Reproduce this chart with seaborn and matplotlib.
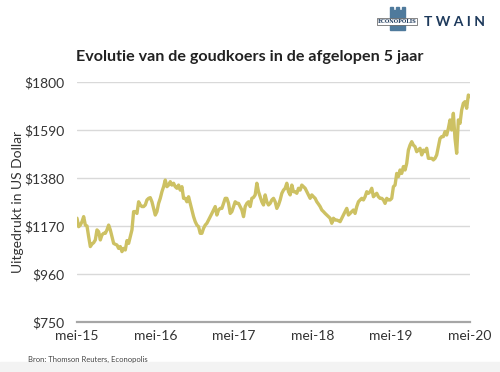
import numpy as np
import pandas as pd
import matplotlib
matplotlib.use("Agg")
import matplotlib.pyplot as plt
import matplotlib.patches as mpatches
import seaborn as sns

# ---- data (gold price, USD/oz) ----
gold_price = [
    1204, 1167, 1174, 1189, 1211, 1174, 1170, 1123, 1080, 1091, 1097, 1109, 1153, 1145, 1109, 1131,
    1138, 1138, 1153, 1174, 1153, 1123, 1094, 1090, 1087, 1072, 1080, 1058, 1072, 1065, 1106, 1094,
    1123, 1153, 1233, 1233, 1225, 1276, 1262, 1255, 1255, 1262, 1284, 1291, 1294, 1276, 1247, 1218,
    1233, 1269, 1291, 1320, 1342, 1371, 1342, 1349, 1364, 1349, 1357, 1342, 1335, 1349, 1327, 1342,
    1291, 1291, 1276, 1298, 1269, 1240, 1211, 1189, 1174, 1167, 1138, 1138, 1160, 1174, 1182, 1196,
    1211, 1225, 1240, 1255, 1218, 1240, 1247, 1247, 1269, 1291, 1291, 1269, 1225, 1233, 1255, 1276,
    1269, 1269, 1255, 1240, 1211, 1255, 1269, 1276,
    1255, 1291, 1295, 1306, 1357, 1320, 1298, 1276, 1262, 1306, 1276, 1262, 1269, 1284, 1291, 1276,
    1247, 1262, 1284, 1313, 1327, 1335, 1357, 1320, 1306, 1349, 1320, 1320, 1313, 1335, 1327, 1349,
    1342, 1335, 1320, 1306, 1291, 1306, 1298, 1291, 1276, 1266, 1255, 1240, 1233, 1225, 1218, 1211,
    1204, 1182, 1204, 1196, 1196, 1193, 1189, 1204, 1218, 1233, 1247, 1218, 1225, 1233, 1240, 1225,
    1255, 1276, 1284, 1291, 1284, 1298, 1320, 1313, 1320, 1335, 1298, 1306, 1313, 1298, 1291, 1291,
    1284, 1269, 1291, 1284, 1284, 1291, 1342, 1349, 1400, 1386, 1415, 1400, 1430, 1415, 1444, 1502,
    1524, 1539, 1524, 1517, 1495, 1502, 1510, 1481, 1502, 1495, 1510, 1466, 1466, 1466, 1459, 1466,
    1481, 1517, 1553, 1561, 1561, 1583, 1568, 1597, 1634, 1590, 1663, 1553, 1488, 1634, 1619, 1677,
    1707, 1714, 1685, 1743, 1736,
]
start_date = "2015-05-01"
end_date = "2020-05-04"
y_ticks = [750, 960, 1170, 1380, 1590, 1800]
x_tick_dates = ["2015-05-01", "2016-05-01", "2017-05-01", "2018-05-01", "2019-05-01", "2020-05-01"]
x_tick_labels = ["mei-15", "mei-16", "mei-17", "mei-18", "mei-19", "mei-20"]

dates = pd.date_range(start_date, end_date, periods=len(gold_price))
df = pd.DataFrame({"datum": dates, "prijs": gold_price})

# ---- style ----
sns.set_theme(style="white")
plt.rcParams["font.family"] = ["Lato", "DejaVu Sans"]

fig = plt.figure(figsize=(5.0, 3.72), dpi=100)
ax = fig.add_axes([0.154, 0.1344, 0.786, 0.6452])

for v in y_ticks[1:]:
    ax.axhline(v, color="#d9d9d9", lw=1.0, zorder=0)

sns.lineplot(data=df, x="datum", y="prijs", ax=ax, color="#cdc163", lw=2.4, zorder=3)

ax.set_ylim(750, 1800)
ax.set_xlim(pd.Timestamp(start_date), pd.Timestamp(end_date))
ax.set_yticks(y_ticks)
ax.set_yticklabels([f"${v}" for v in y_ticks])
ax.set_xticks(pd.to_datetime(x_tick_dates))
ax.set_xticklabels(x_tick_labels)
ax.tick_params(axis="both", length=0, labelsize=10, colors="#333333")
ax.tick_params(axis="y", pad=9)
ax.tick_params(axis="x", pad=6)
for s in ["top", "right", "left"]:
    ax.spines[s].set_visible(False)
ax.spines["bottom"].set_color("#a6a6a6")
ax.spines["bottom"].set_linewidth(1.6)
ax.set_xlabel("")
ax.set_ylabel("Uitgedrukt in US Dollar", fontsize=10, color="#333333")
ax.yaxis.set_label_coords(-0.134, 0.5)

fig.text(0.5, 0.847, "Evolutie van de goudkoers in de afgelopen 5 jaar",
         ha="center", va="center", fontsize=11.6, fontweight="bold", color="#222222")

fig.text(0.056, 0.035, "Bron: Thomson Reuters, Econopolis", fontsize=5.5,
         color="#444444", ha="left", va="center")

# bottom light strip
fig.patches.append(mpatches.Rectangle((0, 0), 1, 0.028, transform=fig.transFigure,
                                      color="#f3f3f3", zorder=0))

# logos
fig.text(0.91, 0.94, "T W A I N", fontsize=10, fontweight="bold", color="#1e3a5c",
         ha="center", va="center")
tower = mpatches.Polygon(
    [(0.78, 0.919), (0.78, 0.981), (0.786, 0.981), (0.786, 0.972), (0.792, 0.972),
     (0.792, 0.981), (0.798, 0.981), (0.798, 0.972), (0.804, 0.972), (0.804, 0.981),
     (0.81, 0.981), (0.81, 0.919)],
    closed=True, transform=fig.transFigure, color="#4f7a9c")
fig.patches.append(tower)
fig.patches.append(mpatches.Rectangle((0.754, 0.933), 0.08, 0.019, transform=fig.transFigure,
                                      facecolor="white", edgecolor="#555555", lw=0.5, zorder=3))
fig.text(0.794, 0.9425, "ECONOPOLIS", fontsize=3.6, fontfamily="DejaVu Serif",
         fontweight="bold", color="#1e3a5c", ha="center", va="center", zorder=4)

fig.savefig("out.png", dpi=100)
